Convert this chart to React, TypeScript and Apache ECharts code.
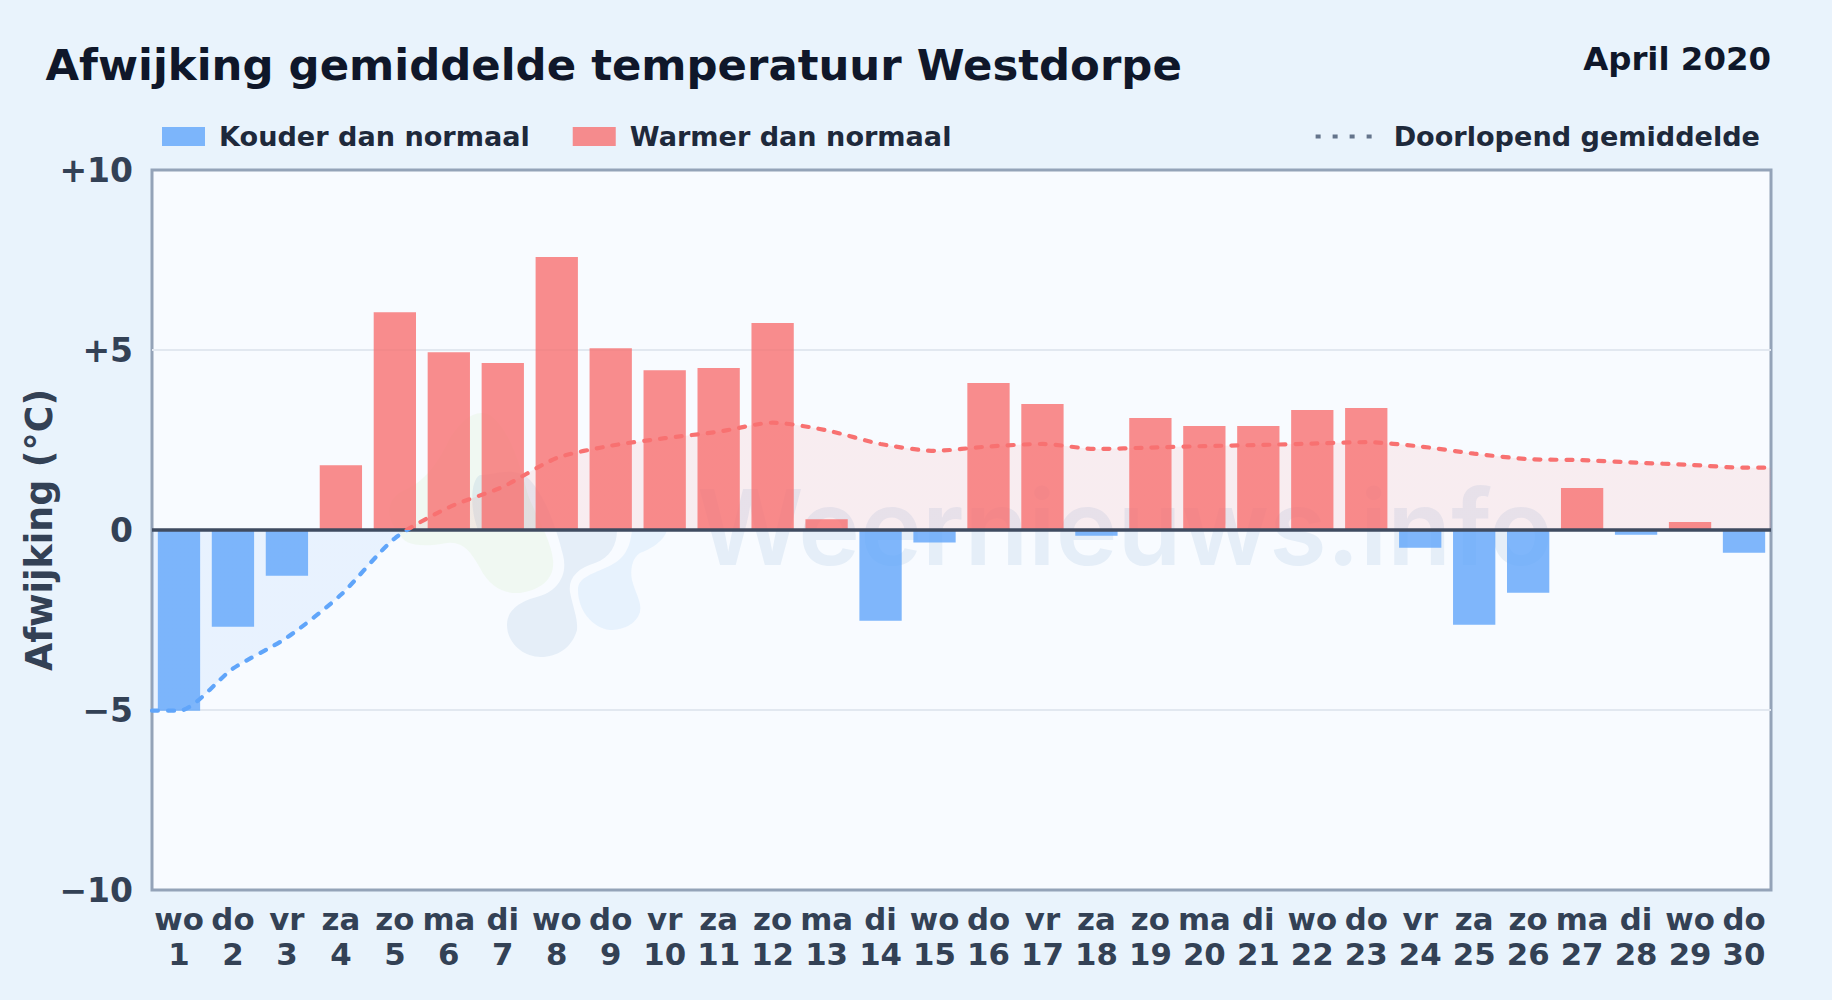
import React, { useEffect, useRef } from "react";
import * as echarts from "echarts";

const weekdays = ["wo","do","vr","za","zo","ma","di","wo","do","vr","za","zo","ma","di","wo","do","vr","za","zo","ma","di","wo","do","vr","za","zo","ma","di","wo","do"];
const days = Array.from({ length: 30 }, (_, i) => String(i + 1));
const deviation = [-5.02,-2.69,-1.27,1.8,6.05,4.94,4.64,7.58,5.05,4.44,4.5,5.75,0.3,-2.52,-0.35,4.08,3.5,-0.16,3.11,2.89,2.89,3.33,3.39,-0.49,-2.63,-1.74,1.17,-0.13,0.22,-0.63];
const runningMean = [-5.02,-3.85,-2.99,-1.8,-0.23,0.63,1.2,2.0,2.34,2.55,2.73,2.98,2.77,2.39,2.2,2.32,2.39,2.25,2.29,2.33,2.36,2.4,2.44,2.32,2.12,1.97,1.94,1.87,1.81,1.73];
const yTicks: Record<string, string> = { "10": "+10", "5": "+5", "0": "0", "-5": "\u22125", "-10": "\u221210" };

const GREEN = "M400 533 C402 545 420 548 447 543 C462 541 470 550 480 568 C490 588 505 594 520 593 C542 590 555 578 553 560 C551 540 538 520 528 495 C520 465 510 430 490 415 C475 408 462 420 450 438 C440 460 425 482 405 490 C385 498 385 520 400 533 Z";
const SLATE = "M507 625 C507 607 525 600 540 596 C558 590 568 575 563 555 C558 535 548 500 530 480 C515 465 495 475 480 475 C470 480 470 510 478 530 L617 530 C617 545 610 558 595 563 C578 568 568 578 570 592 C573 608 578 618 577 630 C572 648 557 657 541 657 C522 657 507 642 507 625 Z";
const SKY = "M578 590 C578 578 590 575 605 568 C625 560 630 548 632 530 L667 530 C665 540 650 550 640 553 C632 558 630 570 632 580 C636 595 642 602 640 612 C636 625 622 630 610 630 C592 628 578 610 578 590 Z";
echarts.graphic.registerShape("wmGreen", echarts.graphic.extendPath(GREEN, {}));
echarts.graphic.registerShape("wmSlate", echarts.graphic.extendPath(SLATE, {}));
echarts.graphic.registerShape("wmSky", echarts.graphic.extendPath(SKY, {}));

const FONT = "'DejaVu Sans'";
const RED = "#f87171";
const BLUE = "#60a5fa";
const splitGradient = (top: string, bottom: string) => ({
  type: "linear", x: 0, y: 170, x2: 0, y2: 890, global: true,
  colorStops: [
    { offset: 0, color: top }, { offset: 0.5, color: top },
    { offset: 0.5, color: bottom }, { offset: 1, color: bottom },
  ],
});

export default function App() {
  const ref = useRef<HTMLDivElement>(null);
  useEffect(() => {
    const chart = echarts.init(ref.current!, undefined, { renderer: "svg" });
    const meanPoints = [
      [0.5, runningMean[0]],
      ...runningMean.map((v, i) => [i + 1, v]),
      [30.5, runningMean[29]],
    ];
    chart.setOption({
      animation: false,
      backgroundColor: "transparent",
      textStyle: { fontFamily: FONT },
      title: [
        { text: "Afwijking gemiddelde temperatuur Westdorpe", left: 45.5, top: 43, padding: 0, textStyle: { fontFamily: FONT, fontSize: 43.4, fontWeight: "bold", color: "#0f172a" } },
        { text: "April 2020", right: 61, top: 43, padding: 0, textStyle: { fontFamily: FONT, fontSize: 32.4, fontWeight: "bold", color: "#0f172a" } },
      ],
      legend: [
        {
          data: ["Kouder dan normaal", "Warmer dan normaal"], left: 162, top: 123, padding: 0, icon: "rect", itemWidth: 43, itemHeight: 19, itemGap: 43, selectedMode: false,
          textStyle: { fontFamily: FONT, fontSize: 27.1, fontWeight: "bold", color: "#1e293b", padding: [0, 0, 0, 9] },
        },
        {
          data: ["Doorlopend gemiddelde"], right: 72, top: 123, padding: 0, itemWidth: 57, itemHeight: 19, selectedMode: false,
          itemStyle: { opacity: 0 },
          lineStyle: { color: "#64748b", width: 4, type: [5, 12], cap: "butt" },
          textStyle: { fontFamily: FONT, fontSize: 27.1, fontWeight: "bold", color: "#1e293b", padding: [0, 0, 0, 16] },
        },
      ],
      grid: { left: 152, right: 61, top: 170, height: 720, show: true, backgroundColor: "#f8fbff", borderColor: "#94a3b8", borderWidth: 3 },
      xAxis: [
        {
          type: "category",
          data: weekdays.map((d, i) => `${d}\n${days[i]}`),
          axisLine: { show: false, onZero: false },
          axisTick: { show: false },
          splitLine: { show: false },
          axisLabel: { interval: 0, margin: 11, fontFamily: FONT, fontSize: 30.8, fontWeight: "bold", color: "#334155", lineHeight: 35 },
        },
        { type: "value", min: 0.5, max: 30.5, show: false },
      ],
      yAxis: {
        type: "value", min: -10, max: 10, interval: 5,
        name: "Afwijking (\u00b0C)", nameLocation: "middle", nameGap: 95, nameMoveOverlap: false,
        nameTextStyle: { fontFamily: FONT, fontSize: 36.4, fontWeight: "bold", color: "#334155" },
        axisLine: { show: false }, axisTick: { show: false },
        splitLine: { showMinLine: false, showMaxLine: false, lineStyle: { color: "#e2e8f0", width: 2 } },
        axisLabel: { margin: 19, fontFamily: FONT, fontSize: 33, fontWeight: "bold", color: "#334155", formatter: (v: number) => yTicks[String(v)] },
      },
      graphic: [
        { type: "wmGreen", z: 1, silent: true, style: { fill: "rgb(178,221,125)", opacity: 0.1 } },
        { type: "wmSlate", z: 1, silent: true, style: { fill: "rgb(68,131,185)", opacity: 0.1 } },
        { type: "wmSky", z: 1, silent: true, style: { fill: "rgb(88,171,235)", opacity: 0.1 } },
        {
          type: "text", z: 1, silent: true, x: 697, y: 474,
          style: { text: "Weernieuws.info", fontFamily: "Inter", fontSize: 104.5, fontWeight: 600, fill: "rgb(68,131,185)", opacity: 0.1 },
        },
      ],
      series: [
        {
          name: "Vlak", type: "line", xAxisIndex: 1, data: meanPoints, smooth: 0.25, symbol: "none", z: 1,
          lineStyle: { width: 0, opacity: 0 },
          areaStyle: { origin: 0, color: splitGradient("rgba(248,113,113,0.15)", "rgba(96,165,250,0.15)") },
        },
        { name: "Kouder dan normaal", type: "bar", barWidth: 42.3, barGap: "-100%", data: deviation.map((v) => (v < 0 ? v : null)), itemStyle: { color: "rgba(96,165,250,0.8)" }, z: 2 },
        { name: "Warmer dan normaal", type: "bar", barWidth: 42.3, barGap: "-100%", data: deviation.map((v) => (v > 0 ? v : null)), itemStyle: { color: "rgba(248,113,113,0.8)" }, z: 2 },
        {
          name: "Doorlopend gemiddelde", type: "line", xAxisIndex: 1, data: meanPoints, smooth: 0.25, symbol: "none", z: 4,
          lineStyle: { width: 4.2, type: [6, 10], cap: "round", color: splitGradient(RED, BLUE) },
          markLine: { silent: true, symbol: "none", label: { show: false }, animation: false, z: 3, data: [{ yAxis: 0 }], lineStyle: { color: "#3f4b60", width: 3.5, type: "solid" } },
        },
      ],
    });
    return () => chart.dispose();
  }, []);
  return (
    <div
      ref={ref}
      style={{ position: "absolute", left: 0, top: 0, width: 1832, height: 1000, background: "#e9f3fc" }}
    />
  );
}
